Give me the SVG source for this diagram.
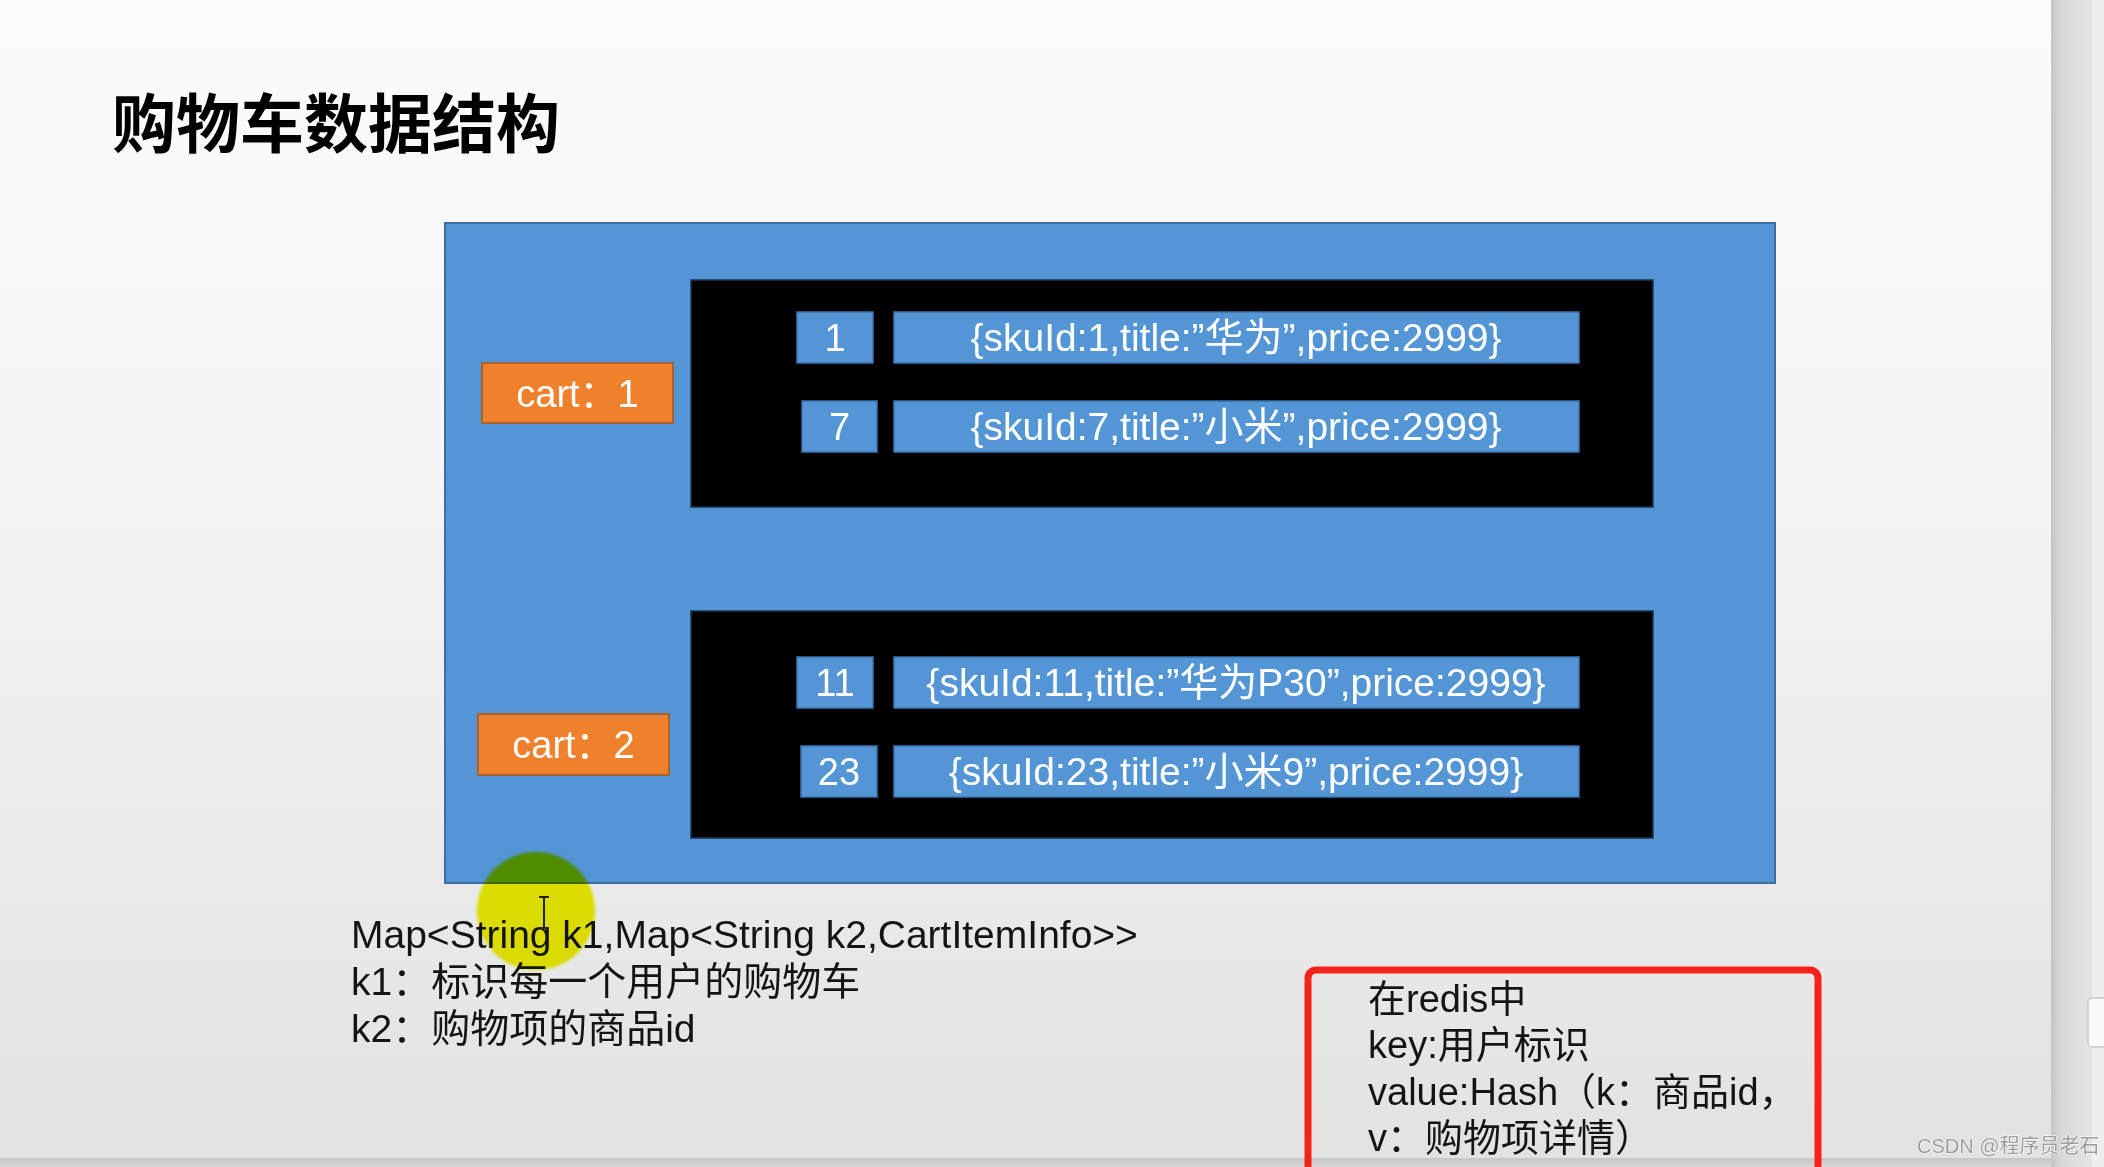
<svg xmlns="http://www.w3.org/2000/svg" width="2104" height="1167" viewBox="0 0 2104 1167">
<defs>
<linearGradient id="bg" x1="0" y1="0" x2="0" y2="1">
<stop offset="0" stop-color="#fcfcfc"/>
<stop offset="0.45" stop-color="#f3f3f3"/>
<stop offset="1" stop-color="#e2e3e1"/>
</linearGradient>
<linearGradient id="strip" x1="0" y1="0" x2="1" y2="0">
<stop offset="0" stop-color="#c4c4c4"/>
<stop offset="0.25" stop-color="#d9d9d9"/>
<stop offset="1" stop-color="#e4e4e4"/>
</linearGradient>
<linearGradient id="band" x1="0" y1="0" x2="0" y2="1">
<stop offset="0" stop-color="#c6c6c6"/>
<stop offset="1" stop-color="#d8d8d8"/>
</linearGradient>
<filter id="soft" x="-20%" y="-20%" width="140%" height="140%"><feGaussianBlur stdDeviation="1.5"/></filter>
</defs>
<style>
.blue{fill:#5395d5;stroke:#3b6fa3;stroke-width:2}
.inner{fill:#000;stroke:#1d3550;stroke-width:1.5}
.cell{fill:#5395d5;stroke:#3a74b0;stroke-width:1.5}
.cart{fill:#ef812c;stroke:#a9612d;stroke-width:2}
.wt{font-family:"Liberation Sans","Noto Sans CJK SC",sans-serif;fill:#fff;text-anchor:middle}
.bt{font-family:"Liberation Sans","Noto Sans CJK SC",sans-serif;fill:#141414}
.title{font-family:"Noto Sans CJK SC","Liberation Sans",sans-serif;font-weight:700;font-size:64px;fill:#000}
.wm{font-family:"Liberation Sans","Noto Sans CJK SC",sans-serif;font-size:20px;fill:#9c9c9c;stroke:#ffffff;stroke-width:1;paint-order:stroke}
</style>
<rect x="0" y="0" width="2104" height="1167" fill="url(#bg)"/>
<rect x="0" y="1158" width="2051" height="9" fill="url(#band)"/>
<rect x="2051" y="0" width="41" height="1167" fill="url(#strip)"/>
<rect x="2092" y="0" width="12" height="1167" fill="#eeeeee"/>
<rect x="2088" y="998" width="22" height="49" rx="4" fill="#fafafa" stroke="#c8c8c8" stroke-width="1.5"/>

<g id="title"><text class="title" x="112" y="147">购物车数据结构</text></g>

<g id="container"><rect class="blue" x="445" y="223" width="1330" height="660"/></g>

<g id="cart1">
<rect class="cart" x="482" y="363" width="191" height="60"/>
<text class="wt" x="577.5" y="406.5" font-size="38">cart：1</text>
</g>
<g id="hash1">
<rect class="inner" x="691" y="280" width="962" height="227"/>
<g id="item1">
<rect class="cell" x="797" y="312" width="76" height="51"/>
<text class="wt" x="835" y="351" font-size="38">1</text>
<rect class="cell" x="894" y="312" width="685" height="51"/>
<text class="wt" x="1236" y="351" font-size="39">{skuId:1,title:”华为”,price:2999}</text>
</g>
<g id="item7">
<rect class="cell" x="802" y="401" width="75" height="51"/>
<text class="wt" x="839.5" y="440" font-size="38">7</text>
<rect class="cell" x="894" y="401" width="685" height="51"/>
<text class="wt" x="1236" y="440" font-size="39">{skuId:7,title:”小米”,price:2999}</text>
</g>
</g>

<g id="cart2">
<rect class="cart" x="478" y="714" width="191" height="61"/>
<text class="wt" x="573.5" y="758" font-size="38">cart：2</text>
</g>
<g id="hash2">
<rect class="inner" x="691" y="611" width="962" height="227"/>
<g id="item11">
<rect class="cell" x="797" y="657" width="76" height="51"/>
<text class="wt" x="835" y="696" font-size="38">11</text>
<rect class="cell" x="894" y="657" width="685" height="51"/>
<text class="wt" x="1236" y="696" font-size="39">{skuId:11,title:”华为P30”,price:2999}</text>
</g>
<g id="item23">
<rect class="cell" x="801" y="746" width="76" height="51"/>
<text class="wt" x="839" y="785" font-size="38">23</text>
<rect class="cell" x="894" y="746" width="685" height="51"/>
<text class="wt" x="1236" y="785" font-size="39">{skuId:23,title:”小米9”,price:2999}</text>
</g>
</g>

<g id="notes">
<text class="bt" x="351" y="948" font-size="39">Map&lt;String k1,Map&lt;String k2,CartItemInfo&gt;&gt;</text>
<text class="bt" x="351" y="995" font-size="39">k1：标识每一个用户的购物车</text>
<text class="bt" x="351" y="1042" font-size="39">k2：购物项的商品id</text>
</g>

<g id="redis-note">
<rect x="1308" y="970" width="510" height="240" rx="8" fill="none" stroke="#f5221b" stroke-width="7"/>
<text class="bt" x="1368" y="1012" font-size="38">在redis中</text>
<text class="bt" x="1368" y="1058" font-size="38">key:用户标识</text>
<text class="bt" x="1368" y="1105" font-size="38">value:Hash（k：商品id，</text>
<text class="bt" x="1368" y="1151" font-size="38">v：购物项详情）</text>
</g>

<g id="connectors"/>

<g id="pointer">
<circle cx="536" cy="911" r="59" fill="#f0f000" style="mix-blend-mode:multiply" filter="url(#soft)"/>
<path d="M539 897 H549 M544 897 V928 M539 928 H549" stroke="#222" stroke-width="2" fill="none"/>
</g>

<text class="wm" x="1917" y="1153">CSDN @程序员老石</text>
</svg>
